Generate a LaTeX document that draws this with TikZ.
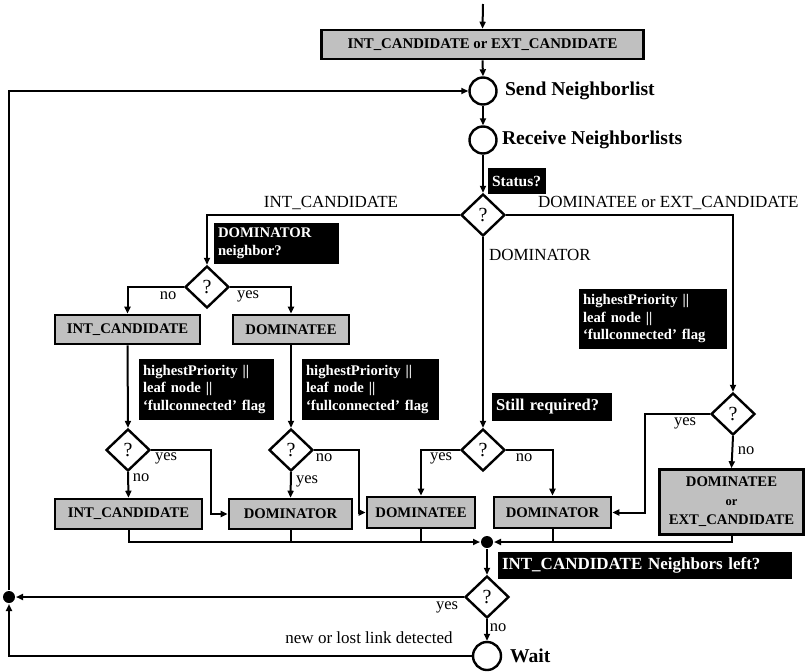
\documentclass[tikz,border=0pt]{standalone}
\usepackage{fontspec}
\setmainfont{Liberation Serif}
\usetikzlibrary{shapes.geometric,arrows.meta,calc}
\definecolor{boxgray}{RGB}{192,192,192}
\begin{document}
\begin{tikzpicture}[x=1pt,y=-1pt,
  line width=2pt,
  flow/.style={-{Triangle[length=7pt,width=6pt]}},
  state/.style={draw, line width=2.6pt, fill=boxgray, inner sep=0pt,
    font=\fontsize{14.7}{16}\selectfont\bfseries, align=center},
  note/.style={fill=black, text=white, anchor=north west, inner xsep=4pt,
    inner ysep=2pt, align=left, font=\fontsize{14.7}{17.5}\selectfont\bfseries},
  decision/.style={diamond, draw, line width=2.4pt, fill=white, inner sep=0pt,
    minimum width=44pt, minimum height=42pt, font=\fontsize{20}{20}\selectfont},
  junction/.style={circle, draw, line width=2.4pt, fill=white, inner sep=0pt,
    minimum size=27pt},
  dot/.style={circle, fill=black, inner sep=0pt, minimum size=12pt},
  title/.style={font=\fontsize{19.6}{21}\selectfont\bfseries, anchor=west, inner sep=0pt},
  branch/.style={font=\fontsize{17}{18}\selectfont, inner sep=0pt},
  answer/.style={font=\fontsize{16.5}{18}\selectfont, inner sep=0pt}
]
\useasboundingbox (0,0) rectangle (806,672);
\fill[white] (0,0) rectangle (806,672);

% entry and main loop
\coordinate (entry) at (483,4);
\node[state, minimum width=322pt, minimum height=29pt, font=\fontsize{14.8}{16}\selectfont\bfseries] (init) at (482.5,44.5)
  {INT\_CANDIDATE or EXT\_CANDIDATE};
\node[junction] (send) at (483,91) {};
\node[title] (sendtxt) at (504,91) {Send Neighborlist};
\node[junction] (recv) at (483,140) {};
\node[title] (recvtxt) at (501,140) {Receive Neighborlists};
\node[note, text width=50pt, minimum height=26pt, font=\fontsize{15.5}{17}\selectfont\bfseries] (statusq) at (487,167) {Status?};
\node[decision] (status) at (483,215) {?};

% branch labels
\node[branch] (lbint) at (331,203) {INT\_CANDIDATE};
\node[branch, anchor=west] (lbdx) at (537,203) {DOMINATEE or EXT\_CANDIDATE};
\node[branch, anchor=west] (lbdom) at (488,255) {DOMINATOR};

% INT_CANDIDATE branch
\node[decision] (d2) at (207,287) {?};
\node[note, text width=117pt, minimum height=41pt] (dnq) at (213,222) {DOMINATOR\\neighbor?};
\node[answer] (d2no) at (168,296) {no};
\node[answer] (d2yes) at (248,296) {yes};
\node[state, minimum width=145pt, minimum height=29pt] (ic1) at (127.5,329.5) {INT\_CANDIDATE};
\node[state, minimum width=116pt, minimum height=29pt] (de1) at (291,329.5) {DOMINATEE};
\node[note, text width=127pt, minimum height=61pt] (hp1) at (138,358) {highestPriority ||\\leaf node ||\\‘fullconnected’ flag};
\node[note, text width=129pt, minimum height=61pt] (hp2) at (301,358) {highestPriority ||\\leaf node ||\\‘fullconnected’ flag};
\node[decision] (d3) at (128,450) {?};
\node[decision] (d4) at (291,450) {?};
\node[answer] (d3yes) at (166,458) {yes};
\node[answer] (d3no) at (141,478) {no};
\node[answer] (d4no) at (324,458) {no};
\node[answer] (d4yes) at (307,481) {yes};
\node[state, minimum width=147pt, minimum height=30pt] (ic2) at (128.5,514) {INT\_CANDIDATE};
\node[state, minimum width=123pt, minimum height=30pt] (dr1) at (290.5,514) {DOMINATOR};

% DOMINATOR branch
\node[note, text width=112pt, minimum height=28pt, font=\fontsize{16.5}{18}\selectfont\bfseries] (stillq) at (491,392) {Still required?};
\node[decision] (d5) at (483,450) {?};
\node[answer] (d5yes) at (441,458) {yes};
\node[answer] (d5no) at (524,458) {no};
\node[state, minimum width=108pt, minimum height=31pt] (de2) at (421,512.5) {DOMINATEE};
\node[state, minimum width=117pt, minimum height=31pt] (dr2) at (552.5,512.5) {DOMINATOR};

% DOMINATEE or EXT_CANDIDATE branch
\node[note, text width=140pt, minimum height=60pt] (hp3) at (578,288) {highestPriority ||\\leaf node ||\\‘fullconnected’ flag};
\node[decision] (d6) at (733,414) {?};
\node[answer] (d6yes) at (685,423) {yes};
\node[answer] (d6no) at (746,451) {no};
\node[state, minimum width=144pt, minimum height=65pt, font=\fontsize{14.7}{19}\selectfont\bfseries] (dx) at (731.5,502)
  {DOMINATEE\\{\fontsize{12.5}{12.5}\selectfont or}\\EXT\_CANDIDATE};

% merge and wait
\node[dot] (merge) at (487,542) {};
\node[note, text width=286pt, minimum height=27pt, font=\fontsize{17}{18}\selectfont\bfseries] (nlq) at (497,551) {INT\_CANDIDATE Neighbors left?};
\node[decision] (d7) at (487,597) {?};
\node[answer] (d7yes) at (447,607) {yes};
\node[answer] (d7no) at (498,628) {no};
\node[junction, minimum size=28pt] (wait) at (487,656) {};
\node[title] (waittxt) at (509,656) {Wait};
\node[branch] (linktxt) at (369,638) {new or lost link detected};
\node[dot] (leftdot) at (9,597) {};

% turning points
\coordinate (d3turn) at (211,514);
\coordinate (d4turn) at (359,512.5);
\coordinate (d6turn) at (645,512.5);

% connectors
\draw[flow] (entry) -- (init.north);
\draw[flow] (init.south) -- (send.north);
\draw[flow] (send.south) -- (recv.north);
\draw[flow] (recv.south) -- (status.north);
\draw[flow] (status.west) -| (d2.north);
\draw[flow] (status.east) -| (d6.north);
\draw[flow] (status.south) -- (d5.north);

\draw[flow] (d2.west) -| (ic1.north);
\draw[flow] (d2.east) -| (de1.north);
\draw[flow] (ic1.south) -- (d3.north);
\draw[flow] (de1.south) -- (d4.north);
\draw[flow] (d3.south) -- (ic2.north);
\draw[flow] (d3.east) -| (d3turn) -- (dr1.west);
\draw[flow] (d4.south) -- (dr1.north);
\draw[flow] (d4.east) -| (d4turn) -- (de2.west);

\draw[flow] (d5.west) -| (de2.north);
\draw[flow] (d5.east) -| (dr2.north);
\draw[flow] (d6.west) -| (d6turn) -- (dr2.east);
\draw[flow] (d6.south) -- (dx.north);

\draw[flow] (ic2.south) |- (merge.west);
\draw (dr1.south) -- (dr1.south |- merge.center);
\draw (de2.south) -- (de2.south |- merge.center);
\draw (dr2.south) -- (dr2.south |- merge.center);
\draw[flow] (dx.south) |- (merge.east);

\draw[flow] (merge.south) -- (d7.north);
\draw[flow] (d7.west) -- (leftdot.east);
\draw[flow] (d7.south) -- (wait.north);
\draw[flow] (wait.west) -| (leftdot.south);
\draw[flow] (leftdot.north) |- (send.west);
\end{tikzpicture}
\end{document}
